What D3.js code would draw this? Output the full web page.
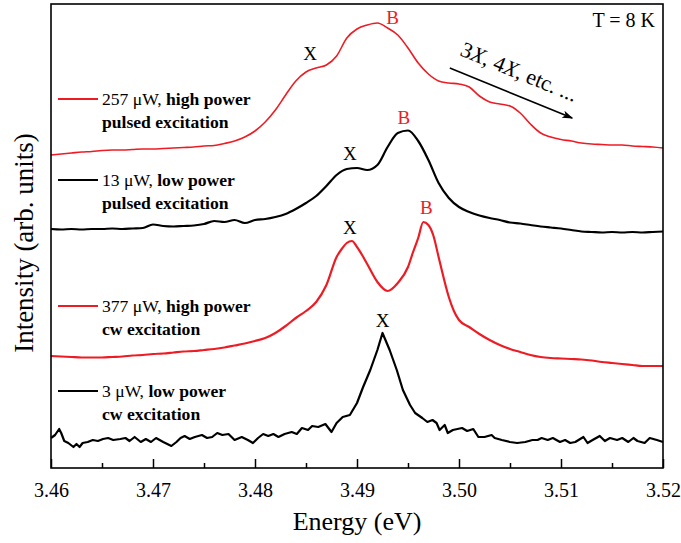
<!DOCTYPE html>
<html><head><meta charset="utf-8">
<script src="https://cdn.jsdelivr.net/npm/d3@7"></script>
<style>
body{margin:0;background:#fff;}
svg{display:block;font-family:"Liberation Serif","Times New Roman",serif;}
</style>
</head><body>
<svg id="chart" width="681" height="543"></svg>
<script>
// ---------- data ----------
const xTickValues = [3.46,3.47,3.48,3.49,3.50,3.51,3.52];
const xMinorTicks = [3.465,3.475,3.485,3.495,3.505,3.515];

const energyGrid = [3.460,3.461,3.462,3.463,3.464,3.465,3.466,3.467,3.468,3.469,3.470,3.471,3.472,3.473,3.474,3.475,3.476,3.477,3.478,3.479,3.480,3.481,3.482,3.483,3.484,3.485,3.486,3.487,3.488,3.489,3.490,3.491,3.492,3.493,3.494,3.495,3.496,3.497,3.498,3.499,3.500,3.501,3.502,3.503,3.504,3.505,3.506,3.507,3.508,3.509,3.510,3.511,3.512,3.513,3.514,3.515,3.516,3.517,3.518,3.519,3.520];

// 257 uW, high power pulsed excitation (red)
const pulsedHigh = [313,314,315,316,316.5,317.5,318,318,318.5,319,319,319.5,320,320.5,321,322,322.5,324.5,327,331,337,346,358,373,387,396,400,403,412,430,439,443,445,440,433,420,405,394,387,385,384,381,372,366,364,362,355,344,335,331,328.5,327,325,324,323.5,323,323,322,321.5,321,320];

// 13 uW, low power pulsed excitation (black)
const pulsedLow = [239,238.5,239,238.5,239,239,239.5,239,239.5,240,243.5,242,241.5,242,242.5,244,247,246,248,245,248,249,251,254,259,265,272,282,293,299,300,298,303,321,335,337.5,327,308,285,270,261,256,252.5,250,248,245.5,244.5,243,241.5,240.5,239.5,238,236.5,236,235.5,236,235.5,236,235.5,236,236.5];

// 377 uW, high power cw excitation (red)
const cwHighEnergy = [3.460,3.461,3.462,3.463,3.464,3.465,3.466,3.467,3.468,3.469,3.470,3.471,3.472,3.473,3.474,3.475,3.476,3.477,3.478,3.479,3.480,3.481,3.482,3.483,3.484,3.485,3.486,3.487,3.488,3.4885,3.489,3.4895,3.490,3.4905,3.491,3.492,3.493,3.494,3.495,3.4955,3.496,3.4965,3.497,3.4975,3.498,3.4985,3.499,3.4995,3.500,3.501,3.502,3.503,3.504,3.505,3.506,3.507,3.508,3.509,3.510,3.511,3.512,3.513,3.514,3.515,3.516,3.517,3.518,3.519,3.520];
const cwHigh = [112,111.5,111,110.5,110.5,110.5,111,111.5,112.5,113,114,114.5,115.5,116.5,117,118,119,120.5,122.5,124.5,127,130,135,142,150,157,166,183,211,219,225,227,221,213,204,186,177,185,201,216,230,246,243,232,211,190,171,157,148,141,134,128,123,119,116,113,111,110,109.5,109,108.5,107.5,106,105,104,103,102,102,102];

// 3 uW, low power cw excitation (black)
const cwLowEnergy = [3.4600,3.4604,3.4608,3.4610,3.4613,3.4617,3.4622,3.4625,3.4628,3.4631,3.4636,3.4641,3.4646,3.4651,3.4656,3.4661,3.4668,3.4673,3.4677,3.4682,3.4688,3.4693,3.4698,3.4703,3.4710,3.4718,3.4723,3.4727,3.4731,3.4736,3.4741,3.4748,3.4753,3.4758,3.4763,3.4768,3.4774,3.4780,3.4787,3.4793,3.4798,3.4803,3.4808,3.4813,3.4818,3.4823,3.4829,3.4836,3.4841,3.4846,3.4852,3.4856,3.4862,3.4869,3.4875,3.4880,3.4886,3.4893,3.4900,3.4906,3.4913,3.4920,3.4925,3.4932,3.4939,3.4945,3.4952,3.4957,3.4964,3.4969,3.4974,3.4978,3.4981,3.4986,3.4989,3.4994,3.5003,3.5008,3.5014,3.5019,3.5025,3.5032,3.5035,3.5042,3.5050,3.5057,3.5065,3.5072,3.5077,3.5081,3.5087,3.5092,3.5099,3.5104,3.5109,3.5114,3.5122,3.5126,3.5131,3.5138,3.5143,3.5148,3.5155,3.5160,3.5166,3.5171,3.5175,3.5182,3.5187,3.5194,3.5200];
const cwLow = [30,33,39,35,27,25,21,24,21,25,26,28,27,29,30,28,29,30,27,31,26,29,26,30,26,22,26,30,32,29,31,33,30,31,35,33,34,28,31,28,25,30,34,32,34,31,34,36,34,40,38,42,41,44,36,45,51,53,65,81,98,118,135,118,98,78,63,55,50,46,48,45,38,43,35,38,40,37,39,31,31,33,30,28,26,25,26,28,28,30,28,30,26,28,25,26,31,25,28,32,27,30,28,30,26,30,27,25,30,28,26];

const legendPower = ["257 \u03bcW, ","13 \u03bcW, ","377 \u03bcW, ","3 \u03bcW, "];
const legendBold = ["high power","low power","high power","low power"];
const legendLine2 = ["pulsed excitation","pulsed excitation","cw excitation","cw excitation"];

// peak labels: text, energy, intensity (baseline)
const peakText = ["X","B","X","B","X","B","X"];
const peakEnergy = [3.4854,3.4935,3.4893,3.4946,3.4893,3.4968,3.4925];
const peakLevel = [408,444,308,344,234,254,141];
const peakIsB = [false,true,false,true,false,true,false];

// ---------- drawing ----------
const RED = "#ed1c24";
const FONT = "'Liberation Serif','Times New Roman',serif";
const svg = d3.select("#chart");
svg.append("rect").attr("width",681).attr("height",543).attr("fill","#fff");

const x = d3.scaleLinear().domain([3.46,3.52]).range([51,663]);
const y = d3.scaleLinear().domain([0,464]).range([468,4]);

const series = [
  {e: energyGrid, v: pulsedHigh, color: RED, w: 1.6, curve: d3.curveMonotoneX},
  {e: energyGrid, v: pulsedLow, color: "#000", w: 2.2, curve: d3.curveMonotoneX},
  {e: cwHighEnergy, v: cwHigh, color: RED, w: 2.2, curve: d3.curveMonotoneX},
  {e: cwLowEnergy, v: cwLow, color: "#000", w: 2.2, curve: d3.curveLinear}
];

series.forEach(s => {
  const pts = s.e.map((e,i)=>[e, s.v[i]]);
  svg.append("path")
    .attr("d", d3.line().x(d=>x(d[0])).y(d=>y(d[1])).curve(s.curve)(pts))
    .attr("fill","none").attr("stroke", s.color).attr("stroke-width", s.w)
    .attr("stroke-linejoin","round");
});

// axes
const gx = svg.append("g").attr("transform","translate(0,468)")
  .call(d3.axisBottom(x).tickValues(xTickValues).tickFormat(d3.format(".2f"))
    .tickSizeInner(-9).tickSizeOuter(0).tickPadding(15));
gx.attr("font-family",FONT);
gx.select(".domain").remove();
gx.selectAll("line").attr("stroke","#000").attr("stroke-width",1.5);
gx.selectAll("text").attr("font-size",20).attr("fill","#000").attr("font-family",FONT);

const gm = svg.append("g").attr("transform","translate(0,468)")
  .call(d3.axisBottom(x).tickValues(xMinorTicks).tickFormat("")
    .tickSizeInner(-5).tickSizeOuter(0));
gm.select(".domain").remove();
gm.selectAll("line").attr("stroke","#000").attr("stroke-width",1.5);

// frame
svg.append("rect").attr("x",51).attr("y",4).attr("width",612).attr("height",464)
  .attr("fill","none").attr("stroke","#000").attr("stroke-width",1.6);

// axis titles
svg.append("text").attr("x",357).attr("y",530).attr("text-anchor","middle")
  .attr("font-size",26).text("Energy (eV)");
svg.append("text").attr("transform","translate(33,243) rotate(-90)")
  .attr("text-anchor","middle").attr("font-size",27).text("Intensity (arb. units)");

// T = 8 K
svg.append("text").attr("x",655).attr("y",27).attr("text-anchor","end")
  .attr("font-size",20).text("T = 8 K");

// legend
const legendY = [99,180,306,391];
const legendColor = [RED,"#000",RED,"#000"];
legendPower.forEach((p,i)=>{
  svg.append("line").attr("x1",58).attr("x2",98).attr("y1",legendY[i]).attr("y2",legendY[i])
    .attr("stroke",legendColor[i]).attr("stroke-width",2);
  const t = svg.append("text").attr("x",102).attr("y",legendY[i]+6).attr("font-size",17.6);
  t.append("tspan").text(p);
  t.append("tspan").attr("font-weight","bold").text(legendBold[i]);
  svg.append("text").attr("x",102).attr("y",legendY[i]+29).attr("font-size",17.6)
    .attr("font-weight","bold").text(legendLine2[i]);
});

// peak labels
peakText.forEach((t,i)=>{
  svg.append("text").attr("x",x(peakEnergy[i])).attr("y",y(peakLevel[i]))
    .attr("text-anchor","middle").attr("font-size",19)
    .attr("fill", peakIsB[i] ? RED : "#000").text(t);
});

// arrow + annotation
svg.append("defs").append("marker").attr("id","ah").attr("viewBox","0 0 10 10")
  .attr("refX",9).attr("refY",5).attr("markerWidth",11).attr("markerHeight",11)
  .attr("markerUnits","userSpaceOnUse").attr("orient","auto")
  .append("path").attr("d","M0,1.5 L10,5 L0,8.5 L2.5,5 Z").attr("fill","#000");
svg.append("line").attr("x1",x(3.4991)).attr("y1",y(400)).attr("x2",x(3.5111)).attr("y2",y(350))
  .attr("stroke","#000").attr("stroke-width",1.6).attr("marker-end","url(#ah)");
const ann = svg.append("text")
  .attr("transform",`translate(${x(3.5000)},${y(413)}) rotate(22.3)`)
  .attr("font-size",22);
ann.append("tspan").text("3");
ann.append("tspan").attr("font-style","italic").text("X");
ann.append("tspan").text(", 4");
ann.append("tspan").attr("font-style","italic").text("X");
ann.append("tspan").text(", etc. ...");
</script>
</body></html>
